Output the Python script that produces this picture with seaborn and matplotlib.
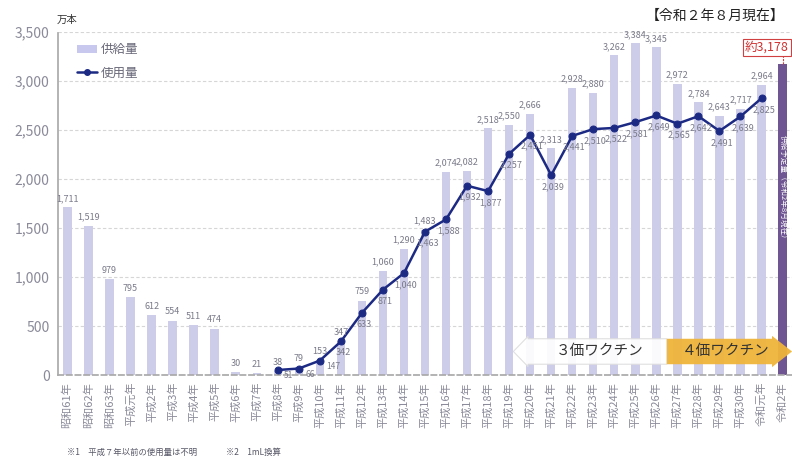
import matplotlib
matplotlib.use("Agg")
import matplotlib.pyplot as plt
import seaborn as sns
import numpy as np
import pandas as pd
from matplotlib.patches import Polygon
from matplotlib.lines import Line2D
from matplotlib.patches import Patch

sns.set_theme(style="white")
plt.rcParams['font.family'] = ['Noto Sans CJK JP', 'DejaVu Sans']

# 年度ラベル
years = ["昭和61年", "昭和62年", "昭和63年", "平成元年", "平成2年", "平成3年", "平成4年",
         "平成5年", "平成6年", "平成7年", "平成8年", "平成9年", "平成10年", "平成11年",
         "平成12年", "平成13年", "平成14年", "平成15年", "平成16年", "平成17年", "平成18年",
         "平成19年", "平成20年", "平成21年", "平成22年", "平成23年", "平成24年", "平成25年",
         "平成26年", "平成27年", "平成28年", "平成29年", "平成30年", "令和元年", "令和2年"]

# 供給量（万本）
supply = [1711, 1519, 979, 795, 612, 554, 511, 474, 30, 21, 38, 79, 153, 347, 759, 1060,
          1290, 1483, 2074, 2082, 2518, 2550, 2666, 2313, 2928, 2880, 3262, 3384, 3345,
          2972, 2784, 2643, 2717, 2964, 3178]

# 使用量（万本）: 平成7年以前は不明
usage = [None] * 10 + [51, 66, 147, 342, 633, 871, 1040, 1463, 1588, 1932, 1877, 2257,
                       2451, 2039, 2441, 2510, 2522, 2581, 2649, 2565, 2642, 2491, 2639,
                       2825, None]

df = pd.DataFrame({"year": years, "supply": supply, "usage": usage})
df["x"] = np.arange(len(df))

fig = plt.figure(figsize=(7.92, 4.59), dpi=100)
ax = fig.add_axes([0.0732, 0.183, 0.9268, 0.747])

bar_light = "#c8c8ee"
bar_dark = "#6d4c9c"
line_col = "#1c2a84"
label_col = "#7a7a8a"

colors = [bar_light] * (len(df) - 1) + [bar_dark]
sns.barplot(data=df, x="x", y="supply", hue="x", palette=colors, legend=False,
            width=0.4, ax=ax, zorder=2, edgecolor="none", native_scale=True)

use_df = df.dropna(subset=["usage"])
sns.lineplot(data=use_df, x="x", y="usage", ax=ax, color=line_col, lw=1.8,
             marker="o", markersize=5, markeredgecolor=line_col, zorder=4)

ax.set_xlim(-0.45, len(df) - 0.55)
ax.set_ylim(0, 3500)
ax.set_yticks(np.arange(0, 3501, 500))
ax.set_yticklabels([f"{v:,}" for v in range(0, 3501, 500)], color="#8a8a9a", fontsize=10)
ax.yaxis.grid(True, linestyle=(0, (3, 2)), color="#d6d6d6", lw=0.8)
ax.set_axisbelow(True)
ax.set_xticks(df["x"])
ax.set_xticklabels(df["year"], rotation=90, fontsize=8, color="#8a8a9a")
ax.tick_params(axis="x", length=0, pad=5)
ax.tick_params(axis="y", length=0, pad=6)
ax.set_xlabel("")
ax.set_ylabel("")
for s in ["top", "right"]:
    ax.spines[s].set_visible(False)
ax.spines["left"].set_linestyle((0, (1, 1)))
ax.spines["left"].set_color("#aaaaaa")
ax.spines["bottom"].set_linestyle((0, (3, 2)))
ax.spines["bottom"].set_color("#aaaaaa")

# 供給量ラベル
for xi, v in zip(df["x"][:-1], df["supply"][:-1]):
    ax.text(xi, v + 45, f"{v:,}", ha="center", va="bottom", fontsize=6.5,
            color=label_col, fontstyle="italic", zorder=5)

# 使用量ラベル（値の小さい点は右横に置く）
for xi, v in zip(use_df["x"], use_df["usage"]):
    if v < 200:
        ax.text(xi + 0.3, v - 10, f"{int(v):,}", ha="left", va="top", fontsize=6,
                color=label_col, fontstyle="italic", zorder=5)
    else:
        ax.text(xi + 0.1, v - 70, f"{int(v):,}", ha="center", va="top", fontsize=6.5,
                color=label_col, fontstyle="italic", zorder=5)

# 令和2年の見込み
last_x = df["x"].iloc[-1]
last_v = df["supply"].iloc[-1]
ax.plot([last_x, last_x], [last_v, 3270], color="#d04040", lw=0.8, ls=(0, (2, 1)), zorder=5)
ax.text(last_x - 0.75, 3345, f"約{last_v:,}", ha="center", va="center", fontsize=9,
        color="#d03030", zorder=6,
        bbox=dict(boxstyle="square,pad=0.15", fc="white", ec="#d04040", lw=0.8))
ax.text(last_x, 1900, "供給予定量（令和2年8月現在）", rotation=270, ha="center", va="center",
        fontsize=5.5, color="white", zorder=6)

# ワクチン切替の矢印
y0, y1 = 110, 370
arr3 = Polygon([[28.5, y0], [21.9, y0], [21.9, y0 - 25], [21.2, (y0 + y1) / 2],
                [21.9, y1 + 25], [21.9, y1], [28.5, y1]], closed=True,
               fc="white", ec="#dddddd", lw=0.8, alpha=0.92, zorder=6)
ax.add_patch(arr3)
arr4 = Polygon([[28.5, y0], [33.5, y0], [33.5, y0 - 30], [34.45, (y0 + y1) / 2],
                [33.5, y1 + 30], [33.5, y1], [28.5, y1]], closed=True,
               fc="#efb43a", ec="none", alpha=0.95, zorder=6)
ax.add_patch(arr4)
ax.text(25.3, (y0 + y1) / 2, "３価ワクチン", ha="center", va="center", fontsize=10.5,
        color="#333333", zorder=7)
ax.text(31.3, (y0 + y1) / 2, "４価ワクチン", ha="center", va="center", fontsize=10.5,
        color="#333333", zorder=7)

# 凡例
handles = [Patch(fc=bar_light, ec="none", label="供給量"),
           Line2D([0], [0], color=line_col, lw=1.8, marker="o", markersize=4, label="使用量")]
leg = ax.legend(handles=handles, loc="upper left", bbox_to_anchor=(0.01, 1.0),
                frameon=False, fontsize=9, handlelength=1.6, labelspacing=0.8,
                handletextpad=0.3)
for t in leg.get_texts():
    t.set_color("#666677")

fig.text(0.072, 0.945, "万本", fontsize=7.5, color="#333333", ha="left", va="bottom")
fig.text(0.99, 0.965, "【令和２年８月現在】", fontsize=10, color="#222222", ha="right", va="center")
fig.text(0.085, 0.015, "※1　平成７年以前の使用量は不明", fontsize=6, color="#555566", ha="left", va="center")
fig.text(0.285, 0.015, "※2　1mL換算", fontsize=6, color="#555566", ha="left", va="center")

fig.savefig("out.png", dpi=100)
